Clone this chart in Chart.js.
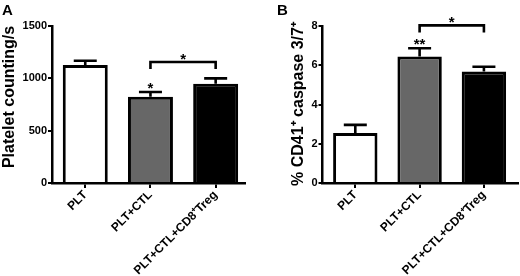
<!DOCTYPE html>
<html>
<head>
<meta charset="utf-8">
<script src="https://cdn.jsdelivr.net/npm/chart.js@4"></script>
<style>
  body { margin: 0; background: #fff; }
  .row { display: flex; width: 520px; height: 276px; }
  canvas { display: block; }
</style>
</head>
<body>
<div class="row">
  <canvas id="chartA" width="260" height="276"></canvas>
  <canvas id="chartB" width="260" height="276"></canvas>
</div>
<script>
// values
const categories = ['PLT', 'PLT+CTL', 'PLT+CTL+CD8\u207ATreg'];
const countMeans = [1127, 824, 948];
const countErrors = [41, 45, 52];
const caspaseMeans = [2.55, 6.44, 5.68];
const caspaseErrors = [0.41, 0.43, 0.24];
const barColors = ['#ffffff', '#676767', '#000000'];

// significance marks: star over one bar, bracket between two bars
const countStars = [{ bar: 1, text: '*' }];
const countBrackets = [{ from: 1, to: 2, level: 1156, text: '*' }];
const caspaseStars = [{ bar: 1, text: '**' }];
const caspaseBrackets = [{ from: 1, to: 2, level: 8.03, text: '*' }];

const FONT = 'Arial, "Liberation Sans", sans-serif';
Chart.defaults.font.family = FONT;
Chart.defaults.color = '#000';

function drawStar(ctx, text, cx, cy) {
  const fs = 15;
  ctx.font = 'bold ' + fs + 'px ' + FONT;
  ctx.textAlign = 'center';
  ctx.textBaseline = 'alphabetic';
  ctx.fillText(text, cx, cy + fs * 0.57);
}

const marksPlugin = {
  id: 'marks',
  afterDatasetsDraw(chart, args, opts) {
    const ctx = chart.ctx;
    const xs = chart.scales.x, ys = chart.scales.y;
    ctx.save();
    ctx.strokeStyle = '#000';
    ctx.fillStyle = '#000';
    ctx.lineWidth = 2.6;
    ctx.lineCap = 'butt';
    // error bars (upper half only)
    opts.means.forEach((m, i) => {
      const xp = xs.getPixelForValue(i);
      const y0 = ys.getPixelForValue(m);
      const y1 = ys.getPixelForValue(m + opts.errors[i]);
      ctx.beginPath();
      ctx.moveTo(xp, y0);
      ctx.lineTo(xp, y1);
      ctx.moveTo(xp - 11.5, y1);
      ctx.lineTo(xp + 11.5, y1);
      ctx.stroke();
    });
    opts.stars.forEach(s => {
      const xp = xs.getPixelForValue(s.bar);
      const y1 = ys.getPixelForValue(opts.means[s.bar] + opts.errors[s.bar]);
      drawStar(ctx, s.text, xp, y1 - 8);
    });
    opts.brackets.forEach(b => {
      const xa = xs.getPixelForValue(b.from), xb = xs.getPixelForValue(b.to);
      const yb = ys.getPixelForValue(b.level);
      ctx.beginPath();
      ctx.moveTo(xa, yb + 7);
      ctx.lineTo(xa, yb);
      ctx.lineTo(xb, yb);
      ctx.lineTo(xb, yb + 7);
      ctx.stroke();
      drawStar(ctx, b.text, (xa + xb) / 2, yb - 7);
    });
    // panel letter
    ctx.font = 'bold 15px ' + FONT;
    ctx.textAlign = 'left';
    ctx.textBaseline = 'top';
    ctx.fillText(opts.letter, opts.letterX, 3);
    // y axis title
    ctx.translate(opts.titleX, opts.titleY);
    ctx.rotate(-Math.PI / 2);
    ctx.font = 'bold 16px ' + FONT;
    ctx.textAlign = 'center';
    ctx.textBaseline = 'middle';
    ctx.fillText(opts.title, 0, 0);
    ctx.restore();
  }
};

function makeChart(id, means, errors, stars, brackets, yMax, yStep, axisX, xMin, xMax, rightPad, letter, letterX, title, titleX, titleY) {
  return new Chart(document.getElementById(id), {
    type: 'bar',
    data: {
      datasets: [{
        data: means.map((v, i) => ({ x: i, y: v })),
        backgroundColor: barColors,
        borderColor: '#000',
        borderWidth: 3,
        borderSkipped: 'start',
        barPercentage: 0.69,
        categoryPercentage: 1
      }]
    },
    options: {
      responsive: false,
      animation: false,
      devicePixelRatio: 1,
      layout: { padding: { left: 0, top: 26, right: rightPad, bottom: 0 } },
      plugins: {
        legend: { display: false },
        tooltip: { enabled: false },
        marks: { means, errors, stars, brackets, letter, letterX, title, titleX, titleY }
      },
      scales: {
        x: {
          type: 'linear',
          min: xMin,
          max: xMax,
          offset: false,
          afterBuildTicks: s => { s.ticks = categories.map((c, i) => ({ value: i })); },
          afterFit: s => { s.height = 93; },
          grid: { display: true, offset: false, drawOnChartArea: false, color: '#000', lineWidth: 2, tickLength: 5 },
          border: { color: '#000', width: 2.5 },
          ticks: {
            callback: v => categories[v],
            minRotation: 45,
            maxRotation: 45,
            autoSkip: false,
            padding: 0,
            font: { size: 12, weight: 'bold' }
          }
        },
        y: {
          min: 0,
          max: yMax,
          afterFit: s => { s.width = axisX; },
          grid: { display: true, drawOnChartArea: false, color: '#000', lineWidth: 2, tickLength: 4 },
          border: { color: '#000', width: 2.5 },
          ticks: { stepSize: yStep, padding: 1, callback: v => String(v), font: { size: 11, weight: 'bold' } }
        }
      }
    },
    plugins: [marksPlugin]
  });
}

makeChart('chartA', countMeans, countErrors, countStars, countBrackets, 1500, 500,
  52, -0.51, 2.45, 15, 'A', 2, 'Platelet counting/s', 10, 97);
makeChart('chartB', caspaseMeans, caspaseErrors, caspaseStars, caspaseBrackets, 8, 2,
  62.5, -0.51, 2.53, 2, 'B', 17, '% CD41\u207A caspase 3/7\u207A', 39, 104);
</script>
</body>
</html>
